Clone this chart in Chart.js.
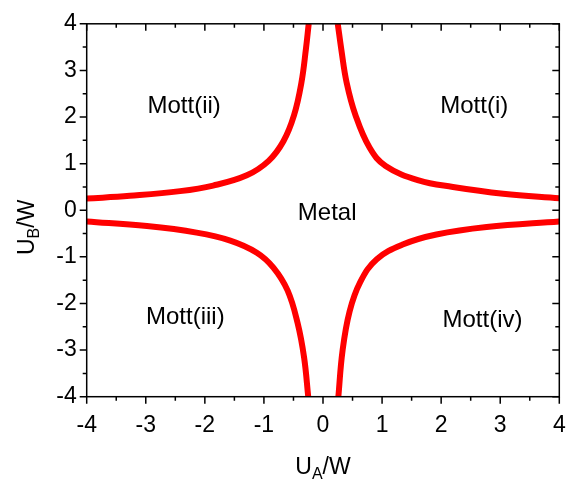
<!DOCTYPE html>
<html>
<head>
<meta charset="utf-8">
<script src="https://cdn.jsdelivr.net/npm/chart.js@4/dist/chart.umd.min.js"></script>
<style>
html,body{margin:0;padding:0;background:#fff;}
#wrap{width:583px;height:480px;position:relative;}
</style>
</head>
<body>
<div id="wrap"><canvas id="c" width="583" height="480"></canvas></div>
<script>
// Axis ranges and tick labels
const xTicks = [-4, -3, -2, -1, 0, 1, 2, 3, 4];
const yTicks = [-4, -3, -2, -1, 0, 1, 2, 3, 4];

// Phase boundary branches
const mott2X = [-4, -3.27, -2.42, -1.86, -1.29, -0.92, -0.67, -0.49, -0.365, -0.29, -0.242];
const mott2Y = [0.25, 0.31, 0.41, 0.53, 0.75, 1.06, 1.48, 2.04, 2.74, 3.45, 4];

const mott1X = [0.25, 0.31, 0.40, 0.55, 0.79, 1.06, 1.62, 2.2, 3.05, 4];
const mott1Y = [4, 3.45, 2.74, 2.04, 1.34, 0.95, 0.64, 0.50, 0.355, 0.255];

const mott3X = [-4, -2.98, -2.14, -1.57, -1.12, -0.84, -0.60, -0.43, -0.32, -0.25];
const mott3Y = [-0.24, -0.34, -0.48, -0.65, -0.91, -1.23, -1.72, -2.42, -3.16, -4];

const mott4X = [0.26, 0.33, 0.45, 0.63, 0.91, 1.36, 1.92, 2.77, 4];
const mott4Y = [-4, -3.02, -2.17, -1.54, -1.05, -0.73, -0.52, -0.36, -0.24];

// Region labels (text centre x, baseline y, in data units)
const regionNames = ["Mott(ii)", "Mott(i)", "Metal", "Mott(iii)", "Mott(iv)"];
const regionX = [-2.35, 2.56, 0.07, -2.33, 2.70];
const regionY = [2.09, 2.09, -0.21, -2.45, -2.51];

const FONT = "'Liberation Sans', Arial, sans-serif";

function pts(xs, ys) { return xs.map((x, i) => ({x: x, y: ys[i]})); }

function branch(xs, ys) {
  return {
    data: pts(xs, ys),
    showLine: true,
    borderColor: '#ff0000',
    borderWidth: 6,
    pointRadius: 0,
    fill: false,
    tension: 0.4,
    borderCapStyle: 'butt',
    borderJoinStyle: 'round'
  };
}

const framePlugin = {
  id: 'frame',
  afterDatasetsDraw(chart) {
    const ctx = chart.ctx;
    const a = chart.chartArea;
    const xs = chart.scales.x, ys = chart.scales.y;
    ctx.save();
    ctx.strokeStyle = '#000';
    ctx.lineWidth = 1.5;
    ctx.strokeRect(a.left, a.top, a.right - a.left, a.bottom - a.top);
    ctx.beginPath();
    for (let v = -4; v <= 4.001; v += 0.5) {
      const major = Math.abs(v - Math.round(v)) < 1e-6;
      const L = major ? 7 : 4;
      const px = xs.getPixelForValue(v);
      ctx.moveTo(px, a.bottom); ctx.lineTo(px, a.bottom + L);
      ctx.moveTo(px, a.top); ctx.lineTo(px, a.top + L);
      const py = ys.getPixelForValue(v);
      ctx.moveTo(a.left, py); ctx.lineTo(a.left - L, py);
      ctx.moveTo(a.right, py); ctx.lineTo(a.right - L, py);
    }
    ctx.stroke();

    // region labels
    ctx.fillStyle = '#000';
    ctx.font = '24px ' + FONT;
    ctx.textAlign = 'center';
    ctx.textBaseline = 'alphabetic';
    regionNames.forEach((t, i) => {
      ctx.fillText(t, xs.getPixelForValue(regionX[i]), ys.getPixelForValue(regionY[i]));
    });

    // axis titles with subscripts
    function measure(main, sub, rest) {
      ctx.font = '23px ' + FONT;
      const w1 = ctx.measureText(main).width;
      const w3 = ctx.measureText(rest).width;
      ctx.font = '16px ' + FONT;
      const w2 = ctx.measureText(sub).width;
      return {w1, w2, w3, total: w1 + w2 + w3};
    }
    function drawTitle(main, sub, rest, m, drop) {
      ctx.textAlign = 'left';
      ctx.textBaseline = 'alphabetic';
      ctx.font = '23px ' + FONT;
      ctx.fillText(main, 0, 0);
      ctx.font = '16px ' + FONT;
      ctx.fillText(sub, m.w1, drop);
      ctx.font = '23px ' + FONT;
      ctx.fillText(rest, m.w1 + m.w2, 0);
    }
    const cx = (a.left + a.right) / 2;
    const mx = measure('U', 'A', '/W');
    ctx.save();
    ctx.translate(cx - mx.total / 2, 474);
    drawTitle('U', 'A', '/W', mx, 5);
    ctx.restore();

    const my = measure('U', 'B', '/W');
    ctx.save();
    ctx.translate(33.5, 255);
    ctx.rotate(-Math.PI / 2);
    drawTitle('U', 'B', '/W', my, 5);
    ctx.restore();
    ctx.restore();
  }
};

new Chart(document.getElementById('c'), {
  type: 'scatter',
  data: {
    datasets: [
      branch(mott2X, mott2Y),
      branch(mott1X, mott1Y),
      branch(mott3X, mott3Y),
      branch(mott4X, mott4Y)
    ]
  },
  options: {
    responsive: false,
    animation: false,
    layout: { padding: { left: 0, top: 17, right: 23.7, bottom: 0 } },
    plugins: { legend: { display: false }, tooltip: { enabled: false } },
    scales: {
      x: {
        type: 'linear', min: -4, max: 4,
        afterFit(s) { s.height = 83.3; },
        afterBuildTicks(s) { s.ticks = xTicks.map(v => ({value: v})); },
        grid: { display: false, drawTicks: false },
        border: { display: false },
        ticks: { color: '#000', padding: 15, font: { family: FONT, size: 23 }, maxRotation: 0 }
      },
      y: {
        type: 'linear', min: -4, max: 4,
        afterFit(s) { s.width = 86.7; },
        afterBuildTicks(s) { s.ticks = yTicks.map(v => ({value: v})); },
        grid: { display: false, drawTicks: false },
        border: { display: false },
        ticks: { color: '#000', padding: 10, font: { family: FONT, size: 23 } }
      }
    }
  },
  plugins: [framePlugin]
});
</script>
</body>
</html>
